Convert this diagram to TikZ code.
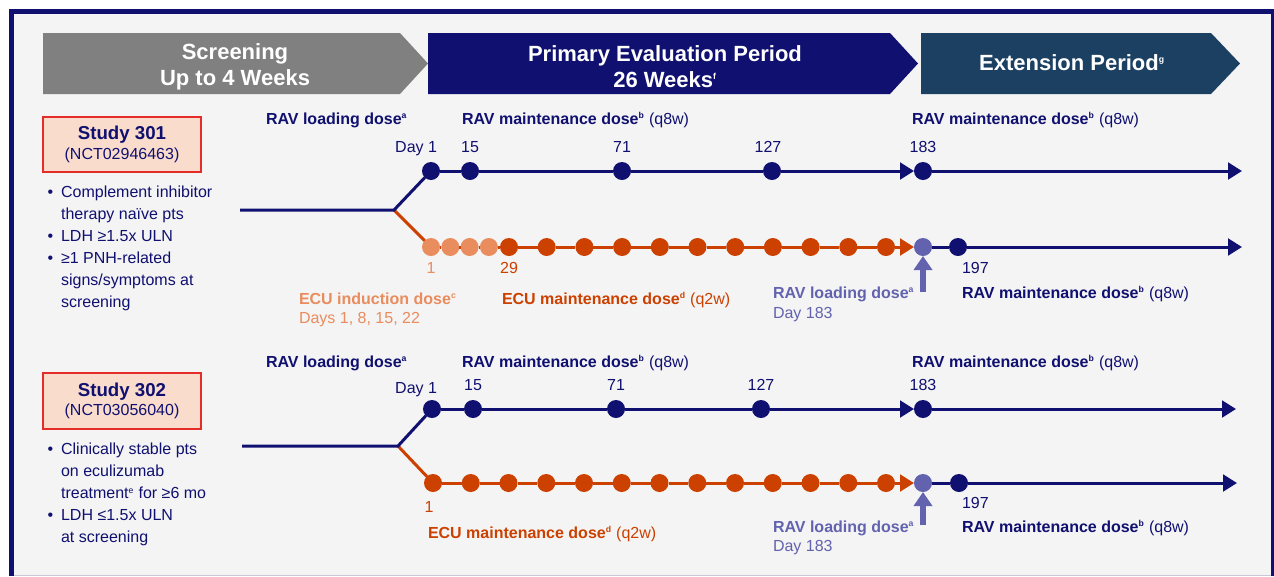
\documentclass[tikz,border=0pt]{standalone}
\usepackage{fontspec}
\setmainfont{Liberation Sans}
\usetikzlibrary{arrows.meta, positioning}
\usepackage{xcolor}
\definecolor{navy}{RGB}{16,16,112}
\definecolor{extblue}{RGB}{28,64,98}
\definecolor{hdrgray}{RGB}{128,128,128}
\definecolor{ecuorange}{RGB}{204,64,0}
\definecolor{ecuinduct}{RGB}{233,140,94}
\definecolor{ravpurple}{RGB}{98,98,174}
\definecolor{boxfill}{RGB}{249,220,203}
\definecolor{boxred}{RGB}{228,45,40}
\definecolor{bggray}{RGB}{244,244,244}
\definecolor{edgegray}{RGB}{200,200,215}
\def\dotsize{13.5pt}
\def\fnote#1{\textsuperscript{\fontsize{6.5}{6.5}\selectfont #1}}

\begin{document}
\begin{tikzpicture}[x=0.75pt, y=-0.75pt, line width=2.25pt]
    \tikzstyle{dosedot}=[circle, minimum size=\dotsize, inner sep=0pt, outer sep=0pt]
    \tikzstyle{ravdot}=[dosedot, fill=navy]
    \tikzstyle{ecudot}=[dosedot, fill=ecuorange]
    \tikzstyle{inddot}=[dosedot, fill=ecuinduct]
    \tikzstyle{loaddot}=[dosedot, fill=ravpurple]
    \tikzstyle{ravline}=[draw=navy]
    \tikzstyle{eculine}=[draw=ecuorange]
    \tikzstyle{endtip}=[-{Triangle[length=10.5pt,width=12.5pt]}]
    \tikzstyle{lbl}=[inner sep=0pt, outer sep=0pt, text height=8.6pt, text depth=0pt, font=\fontsize{12}{14}\selectfont]
    \tikzstyle{period}=[text=white, align=center, font=\bfseries\fontsize{16.5}{19.5}\selectfont]
    \tikzstyle{study}=[draw=boxred, line width=1.5pt, fill=boxfill, minimum width=118.5pt, minimum height=41.5pt, text=navy, align=center, font=\fontsize{12}{14}\selectfont]
    \tikzstyle{bullets}=[anchor=north west, inner sep=0pt, text=navy, font=\fontsize{12}{16.5}\selectfont]

    \useasboundingbox (0,0) rectangle (1274,576);
    % Draw the frame
    \fill[navy] (9,9) rectangle (1274,576);
    \fill[bggray] (14,14) rectangle (1271,576);
    \fill[edgegray] (14,574.5) rectangle (1271,576);

    % Draw the period headers
    \fill[hdrgray] (43,33) -- (400,33) -- (428,63.5) -- (400,94) -- (43,94) -- cycle;
    \fill[navy] (428,33) -- (890,33) -- (918,63.5) -- (890,94) -- (428,94) -- cycle;
    \fill[extblue] (921,33) -- (1211,33) -- (1240,63.5) -- (1211,94) -- (921,94) -- cycle;
    \node[period] (scr) at (235,67) {Screening\\Up to 4 Weeks};
    \node[period] (pep) at (665,67) {Primary Evaluation Period\\26 Weeks\fnote{f}};
    \node[period] (ext) at (1072,63) {Extension Period\fnote{g}};

    % Draw the study boxes and criteria
    \node[study] (S301) at (122,144.5) {{\bfseries\fontsize{14}{16}\selectfont Study 301}\\[0.5pt](NCT02946463)};
    \node[bullets] (L301) at (46,181) {\begin{tabular}{@{}l@{\hspace{6pt}}l@{}}
        \textbullet & Complement inhibitor\\
                    & therapy naïve pts\\
        \textbullet & LDH ≥1.5x ULN\\
        \textbullet & ≥1 PNH-related\\
                    & signs/symptoms at\\
                    & screening
    \end{tabular}};
    \node[study] (S302) at (122,401) {{\bfseries\fontsize{14}{16}\selectfont Study 302}\\[0.5pt](NCT03056040)};
    \node[bullets] (L302) at (46,438) {\begin{tabular}{@{}l@{\hspace{6pt}}l@{}}
        \textbullet & Clinically stable pts\\
                    & on eculizumab\\
                    & treatment\fnote{e} for ≥6 mo\\
        \textbullet & LDH ≤1.5x ULN\\
                    & at screening
    \end{tabular}};

    % Draw the Study 301 dose nodes
    \coordinate (T301) at (240,210);
    \coordinate (B301) at (394,210);
    \foreach \n/\x in {1/431,2/470,3/622,4/772,5/923}
        \node[ravdot] (U1-\n) at (\x,171) {};
    \coordinate (E1-U) at (1242,171);
    \foreach \k in {0,...,3}
        \node[inddot] (I1-\k) at ({431+19.3*\k},247) {};
    \foreach \k in {0,...,10}
        \node[ecudot] (M1-\k) at ({509+37.7*\k},247) {};
    \node[loaddot] (P1) at (923,247) {};
    \node[ravdot] (N1) at (958,247) {};
    \coordinate (E1-L) at (1242,247);
    \coordinate (A1) at (923,292);

    % Study 301 connectors
    \draw[eculine] (B301) -- (I1-0);
    \foreach \k [count=\j] in {0,...,2}
        \draw[eculine] (I1-\k) -- (I1-\j);
    \draw[eculine] (I1-3) -- (M1-0);
    \foreach \k [count=\j] in {0,...,9}
        \draw[eculine] (M1-\k) -- (M1-\j);
    \draw[eculine, endtip] (M1-10) -- (P1);
    \draw[ravline] (P1) -- (N1);
    \draw[ravline, endtip] (N1) -- (E1-L);
    \draw[ravline] (T301) -- (B301) -- (U1-1);
    \foreach \k [count=\j from 2] in {1,...,3}
        \draw[ravline] (U1-\k) -- (U1-\j);
    \draw[ravline, endtip] (U1-4) -- (U1-5);
    \draw[ravline, endtip] (U1-5) -- (E1-U);
    \draw[ravpurple, line width=4.5pt, -{Triangle[length=10.5pt,width=13.5pt]}] (A1) -- (P1);

    % Study 301 labels
    \node[lbl, anchor=west, text=navy] (rl1) at (266,119) {\textbf{RAV loading dose\fnote{a}}};
    \node[lbl, anchor=west, text=navy] (rm1) at (462,119) {\textbf{RAV maintenance dose\fnote{b}} (q8w)};
    \node[lbl, anchor=west, text=navy] (rx1) at (912,119) {\textbf{RAV maintenance dose\fnote{b}} (q8w)};
    \node[lbl, anchor=east, text=navy] (d1-1) at (437,147) {Day 1};
    \node[lbl, text=navy, above=7pt of U1-2] (d1-2) {15};
    \node[lbl, text=navy, above=7pt of U1-3] (d1-3) {71};
    \node[lbl, text=navy, above=7pt of U1-4, xshift=-3pt] (d1-4) {127};
    \node[lbl, text=navy, above=7pt of U1-5] (d1-5) {183};
    \node[lbl, text=ecuinduct, below=4.7pt of I1-0] (d1-i) {1};
    \node[lbl, text=ecuorange, below=4.7pt of M1-0] (d1-m) {29};
    \node[lbl, anchor=west, text=navy] (d1-n) at (962,268) {197};
    \node[lbl, anchor=west, text=ecuinduct] (ei1) at (299,299) {\textbf{ECU induction dose\fnote{c}}};
    \node[lbl, anchor=west, text=ecuinduct] (ed1) at (299,318) {Days 1, 8, 15, 22};
    \node[lbl, anchor=west, text=ecuorange] (em1) at (502,299) {\textbf{ECU maintenance dose\fnote{d}} (q2w)};
    \node[lbl, anchor=west, text=ravpurple] (pl1) at (773,293) {\textbf{RAV loading dose\fnote{a}}};
    \node[lbl, anchor=west, text=ravpurple] (pd1) at (773,313) {Day 183};
    \node[lbl, anchor=west, text=navy] (nm1) at (962,293) {\textbf{RAV maintenance dose\fnote{b}} (q8w)};

    % Draw the Study 302 dose nodes
    \coordinate (T302) at (242,446);
    \coordinate (B302) at (398,446);
    \foreach \n/\x in {1/432,2/473,3/616,4/761,5/923}
        \node[ravdot] (U2-\n) at (\x,409) {};
    \coordinate (E2-U) at (1236,409);
    \foreach \k in {0,...,12}
        \node[ecudot] (M2-\k) at ({433+37.75*\k},483) {};
    \node[loaddot] (P2) at (923,483) {};
    \node[ravdot] (N2) at (959,483) {};
    \coordinate (E2-L) at (1237,483);
    \coordinate (A2) at (923,525);

    % Study 302 connectors
    \draw[eculine] (B302) -- (M2-0);
    \foreach \k [count=\j] in {0,...,11}
        \draw[eculine] (M2-\k) -- (M2-\j);
    \draw[eculine, endtip] (M2-12) -- (P2);
    \draw[ravline] (P2) -- (N2);
    \draw[ravline, endtip] (N2) -- (E2-L);
    \draw[ravline] (T302) -- (B302) -- (U2-1);
    \foreach \k [count=\j from 2] in {1,...,3}
        \draw[ravline] (U2-\k) -- (U2-\j);
    \draw[ravline, endtip] (U2-4) -- (U2-5);
    \draw[ravline, endtip] (U2-5) -- (E2-U);
    \draw[ravpurple, line width=4.5pt, -{Triangle[length=10.5pt,width=13.5pt]}] (A2) -- (P2);

    % Study 302 labels
    \node[lbl, anchor=west, text=navy] (rl2) at (266,362) {\textbf{RAV loading dose\fnote{a}}};
    \node[lbl, anchor=west, text=navy] (rm2) at (462,362) {\textbf{RAV maintenance dose\fnote{b}} (q8w)};
    \node[lbl, anchor=west, text=navy] (rx2) at (912,362) {\textbf{RAV maintenance dose\fnote{b}} (q8w)};
    \node[lbl, anchor=east, text=navy] (d2-1) at (437,388) {Day 1};
    \node[lbl, text=navy, above=7pt of U2-2] (d2-2) {15};
    \node[lbl, text=navy, above=7pt of U2-3] (d2-3) {71};
    \node[lbl, text=navy, above=7pt of U2-4] (d2-4) {127};
    \node[lbl, text=navy, above=7pt of U2-5] (d2-5) {183};
    \node[lbl, text=ecuorange, below=7pt of M2-0, xshift=-3pt] (d2-m) {1};
    \node[lbl, anchor=west, text=navy] (d2-n) at (962,503) {197};
    \node[lbl, anchor=west, text=ecuorange] (em2) at (428,533) {\textbf{ECU maintenance dose\fnote{d}} (q2w)};
    \node[lbl, anchor=west, text=ravpurple] (pl2) at (773,527) {\textbf{RAV loading dose\fnote{a}}};
    \node[lbl, anchor=west, text=ravpurple] (pd2) at (773,546) {Day 183};
    \node[lbl, anchor=west, text=navy] (nm2) at (962,527) {\textbf{RAV maintenance dose\fnote{b}} (q8w)};
\end{tikzpicture}
\end{document}
